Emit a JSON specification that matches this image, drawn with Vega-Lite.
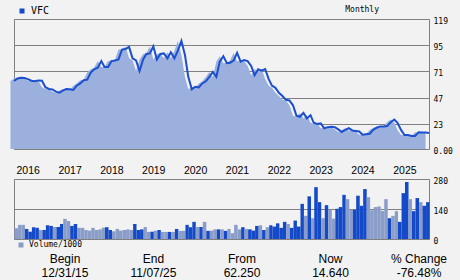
{
"$schema": "https://vega.github.io/schema/vega-lite/v6.json",
"background": "#f2f2f2",
"padding": {"left": 9, "top": 5, "right": 0, "bottom": 0},
"bounds": "flush",
"spacing": 30,
"resolve": {"scale": {"color": "independent"}, "legend": {"color": "independent"}},
"config": {
  "view": {"stroke": "#808080", "strokeWidth": 1},
  "axis": {"domain": false, "ticks": false, "grid": true, "gridColor": "#808080", "gridOpacity": 1, "gridWidth": 1, "labelFont": "DejaVu Sans Mono", "labelFontSize": 8, "labelColor": "#000000", "title": null},
  "legend": {"padding": 0, "labelFont": "DejaVu Sans Mono", "labelColor": "#000000", "symbolType": "square", "symbolSize": 25, "symbolStrokeWidth": 0, "labelOffset": 4}
},
"datasets": {
"m": [
{"d":"2015-12","c":62.25,"v":null,"dir":null},
{"d":"2016-01","c":64.5,"v":50,"dir":"down"},
{"d":"2016-02","c":65.3,"v":66,"dir":"down"},
{"d":"2016-03","c":65,"v":66,"dir":"down"},
{"d":"2016-04","c":64,"v":47,"dir":"up"},
{"d":"2016-05","c":62.5,"v":34,"dir":"up"},
{"d":"2016-06","c":62,"v":55,"dir":"up"},
{"d":"2016-07","c":62.8,"v":52,"dir":"up"},
{"d":"2016-08","c":62.5,"v":42,"dir":"down"},
{"d":"2016-09","c":56.5,"v":42,"dir":"up"},
{"d":"2016-10","c":55,"v":64,"dir":"up"},
{"d":"2016-11","c":54.5,"v":61,"dir":"up"},
{"d":"2016-12","c":52.5,"v":56,"dir":"down"},
{"d":"2017-01","c":51.5,"v":56,"dir":"up"},
{"d":"2017-02","c":53.5,"v":70,"dir":"up"},
{"d":"2017-03","c":54.8,"v":94,"dir":"down"},
{"d":"2017-04","c":54.6,"v":84,"dir":"down"},
{"d":"2017-05","c":54,"v":61,"dir":"up"},
{"d":"2017-06","c":58,"v":70,"dir":"up"},
{"d":"2017-07","c":60,"v":52,"dir":"down"},
{"d":"2017-08","c":63,"v":52,"dir":"down"},
{"d":"2017-09","c":63.5,"v":42,"dir":"down"},
{"d":"2017-10","c":70,"v":39,"dir":"down"},
{"d":"2017-11","c":73,"v":52,"dir":"down"},
{"d":"2017-12","c":74.5,"v":42,"dir":"down"},
{"d":"2018-01","c":80.5,"v":45,"dir":"down"},
{"d":"2018-02","c":75,"v":53,"dir":"down"},
{"d":"2018-03","c":75,"v":55,"dir":"up"},
{"d":"2018-04","c":80.5,"v":42,"dir":"up"},
{"d":"2018-05","c":81,"v":36,"dir":"down"},
{"d":"2018-06","c":82,"v":47,"dir":"down"},
{"d":"2018-07","c":91,"v":39,"dir":"down"},
{"d":"2018-08","c":91.5,"v":42,"dir":"down"},
{"d":"2018-09","c":93.5,"v":45,"dir":"down"},
{"d":"2018-10","c":83,"v":42,"dir":"down"},
{"d":"2018-11","c":81,"v":70,"dir":"up"},
{"d":"2018-12","c":71.4,"v":42,"dir":"up"},
{"d":"2019-01","c":82,"v":45,"dir":"up"},
{"d":"2019-02","c":87,"v":56,"dir":"down"},
{"d":"2019-03","c":87.5,"v":33,"dir":"down"},
{"d":"2019-04","c":94,"v":34,"dir":"up"},
{"d":"2019-05","c":82,"v":39,"dir":"down"},
{"d":"2019-06","c":87,"v":42,"dir":"up"},
{"d":"2019-07","c":87.5,"v":33,"dir":"down"},
{"d":"2019-08","c":83,"v":33,"dir":"down"},
{"d":"2019-09","c":88.5,"v":33,"dir":"up"},
{"d":"2019-10","c":83,"v":33,"dir":"down"},
{"d":"2019-11","c":90,"v":47,"dir":"up"},
{"d":"2019-12","c":99,"v":38,"dir":"down"},
{"d":"2020-01","c":86,"v":38,"dir":"down"},
{"d":"2020-02","c":66,"v":66,"dir":"up"},
{"d":"2020-03","c":54.6,"v":55,"dir":"up"},
{"d":"2020-04","c":57,"v":80,"dir":"up"},
{"d":"2020-05","c":56.4,"v":56,"dir":"down"},
{"d":"2020-06","c":60,"v":56,"dir":"up"},
{"d":"2020-07","c":62,"v":80,"dir":"down"},
{"d":"2020-08","c":66,"v":38,"dir":"up"},
{"d":"2020-09","c":70.5,"v":39,"dir":"down"},
{"d":"2020-10","c":66,"v":45,"dir":"down"},
{"d":"2020-11","c":80,"v":45,"dir":"up"},
{"d":"2020-12","c":85,"v":45,"dir":"down"},
{"d":"2021-01","c":78.5,"v":38,"dir":"up"},
{"d":"2021-02","c":79,"v":47,"dir":"down"},
{"d":"2021-03","c":81,"v":27,"dir":"down"},
{"d":"2021-04","c":88,"v":66,"dir":"down"},
{"d":"2021-05","c":80,"v":45,"dir":"down"},
{"d":"2021-06","c":81.5,"v":55,"dir":"up"},
{"d":"2021-07","c":80.5,"v":47,"dir":"down"},
{"d":"2021-08","c":76,"v":45,"dir":"up"},
{"d":"2021-09","c":67.5,"v":39,"dir":"up"},
{"d":"2021-10","c":73,"v":61,"dir":"up"},
{"d":"2021-11","c":71.7,"v":64,"dir":"down"},
{"d":"2021-12","c":73.2,"v":42,"dir":"up"},
{"d":"2022-01","c":64,"v":55,"dir":"down"},
{"d":"2022-02","c":58,"v":64,"dir":"up"},
{"d":"2022-03","c":56,"v":58,"dir":"up"},
{"d":"2022-04","c":51.5,"v":73,"dir":"up"},
{"d":"2022-05","c":48.5,"v":52,"dir":"up"},
{"d":"2022-06","c":45,"v":80,"dir":"up"},
{"d":"2022-07","c":44.5,"v":70,"dir":"down"},
{"d":"2022-08","c":40,"v":52,"dir":"up"},
{"d":"2022-09","c":30.5,"v":86,"dir":"up"},
{"d":"2022-10","c":29.5,"v":58,"dir":"up"},
{"d":"2022-11","c":33,"v":164,"dir":"up"},
{"d":"2022-12","c":28,"v":108,"dir":"down"},
{"d":"2023-01","c":31,"v":199,"dir":"up"},
{"d":"2023-02","c":24,"v":97,"dir":"down"},
{"d":"2023-03","c":23,"v":242,"dir":"up"},
{"d":"2023-04","c":23.5,"v":172,"dir":"up"},
{"d":"2023-05","c":19,"v":97,"dir":"down"},
{"d":"2023-06","c":20,"v":158,"dir":"up"},
{"d":"2023-07","c":20.4,"v":136,"dir":"down"},
{"d":"2023-08","c":20,"v":95,"dir":"down"},
{"d":"2023-09","c":18,"v":141,"dir":"up"},
{"d":"2023-10","c":15.5,"v":149,"dir":"up"},
{"d":"2023-11","c":17.5,"v":206,"dir":"up"},
{"d":"2023-12","c":19,"v":186,"dir":"down"},
{"d":"2024-01","c":17,"v":136,"dir":"down"},
{"d":"2024-02","c":16.5,"v":136,"dir":"up"},
{"d":"2024-03","c":16,"v":202,"dir":"up"},
{"d":"2024-04","c":13,"v":155,"dir":"up"},
{"d":"2024-05","c":13.5,"v":233,"dir":"up"},
{"d":"2024-06","c":14,"v":195,"dir":"down"},
{"d":"2024-07","c":17.5,"v":134,"dir":"down"},
{"d":"2024-08","c":19.5,"v":149,"dir":"down"},
{"d":"2024-09","c":20.7,"v":152,"dir":"down"},
{"d":"2024-10","c":20.7,"v":131,"dir":"down"},
{"d":"2024-11","c":21,"v":186,"dir":"down"},
{"d":"2024-12","c":24.5,"v":97,"dir":"up"},
{"d":"2025-01","c":27,"v":108,"dir":"down"},
{"d":"2025-02","c":24,"v":130,"dir":"down"},
{"d":"2025-03","c":17.5,"v":80,"dir":"up"},
{"d":"2025-04","c":12.8,"v":214,"dir":"up"},
{"d":"2025-05","c":12.8,"v":266,"dir":"up"},
{"d":"2025-06","c":12,"v":186,"dir":"down"},
{"d":"2025-07","c":12,"v":130,"dir":"up"},
{"d":"2025-08","c":15.3,"v":191,"dir":"up"},
{"d":"2025-09","c":15,"v":172,"dir":"down"},
{"d":"2025-10","c":15,"v":155,"dir":"up"},
{"d":"2025-11","c":14.64,"v":172,"dir":"up"}
],
"f": [
{"k":"Begin","val":"12/31/15"},
{"k":"End","val":"11/07/25"},
{"k":"From","val":"62.250"},
{"k":"Now","val":"14.640"},
{"k":"% Change","val":"-76.48%"}
]
},
"vconcat": [
{
  "width": 415, "height": 130,
  "data": {"name": "m"},
  "title": {"text": "Monthly", "anchor": "end", "frame": "group", "dx": -50, "dy": 8, "offset": 0, "font": "DejaVu Sans Mono", "fontSize": 8, "fontWeight": "normal", "color": "#000000"},
  "encoding": {
    "x": {"field": "d", "timeUnit": "utcyearmonth", "type": "temporal", "bandPosition": 1,
          "scale": {"domain": [{"year": 2016, "month": 1, "date": 1, "utc": true}, {"year": 2025, "month": 12, "date": 1, "utc": true}], "nice": false, "padding": 0},
          "axis": null},
    "y": {"field": "c", "type": "quantitative", "scale": {"domain": [0, 119], "nice": false},
          "axis": {"orient": "right", "values": [0, 23, 47, 71, 95, 119], "labelExpr": "datum.value == 0 ? '0.00' : datum.label", "labelPadding": 4, "labelOffset": 2}}
  },
  "layer": [
    {"mark": {"type": "area", "color": "#9cb0dd"}},
    {"mark": {"type": "line", "strokeWidth": 2},
     "encoding": {"color": {"datum": "VFC", "type": "nominal", "scale": {"range": ["#1a4fd0"]},
       "legend": {"orient": "none", "legendX": 3, "legendY": -13, "title": null, "labelFontSize": 10, "symbolFillColor": "#1449c8", "symbolType": "square"}}}}
  ]
},
{
  "width": 415, "height": 60,
  "data": {"name": "m"},
  "mark": {"type": "bar", "timeUnitBandSize": 1, "binSpacing": 0},
  "encoding": {
    "x": {"field": "d", "timeUnit": "utcyearmonth", "type": "temporal",
          "scale": {"domain": [{"year": 2016, "month": 1, "date": 1, "utc": true}, {"year": 2025, "month": 12, "date": 1, "utc": true}], "nice": false, "padding": 0},
          "axis": {"orient": "top", "grid": false, "format": "%Y", "tickCount": "year", "labelAlign": "left", "labelOffset": 2, "labelPadding": 4, "labelFont": "Liberation Sans", "labelFontSize": 10.5, "labelFlush": false, "labelOverlap": false, "labelBaseline": "bottom"}},
    "y": {"field": "v", "type": "quantitative", "scale": {"domain": [0, 280], "nice": false},
          "axis": {"orient": "right", "values": [0, 140, 280], "labelPadding": 4, "labelOffset": 2}},
    "color": {"field": "dir", "type": "nominal", "scale": {"domain": ["up", "down"], "range": ["#1449c8", "#8a9cc8"]},
       "legend": {"values": ["down"], "labelExpr": "'Volume/1000'", "orient": "none", "legendX": 3, "legendY": 62, "title": null, "labelFontSize": 8}}
  }
},
{
  "width": 456, "height": 14,
  "view": {"stroke": null},
  "data": {"name": "f"},
  "transform": [{"fold": ["k", "val"], "as": ["row", "txt"]}],
  "mark": {"type": "text", "font": "Liberation Sans", "fontSize": 12, "dy": -10, "color": "#000000"},
  "encoding": {
    "x": {"field": "k", "type": "nominal", "sort": null, "scale": {"type": "point", "padding": 0.576}, "axis": null},
    "y": {"field": "row", "type": "nominal", "sort": ["k", "val"], "scale": {"type": "point", "padding": 0}, "axis": null},
    "text": {"field": "txt"}
  }
}
]
}
